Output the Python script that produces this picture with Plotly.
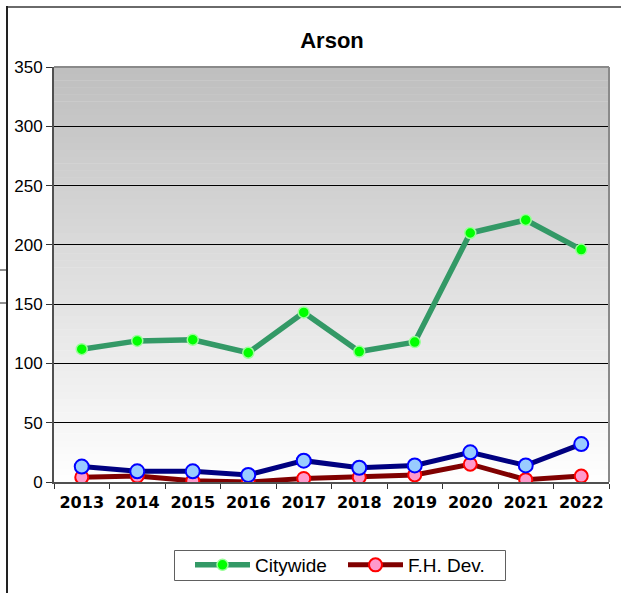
import plotly.graph_objects as go

years = ["2013", "2014", "2015", "2016", "2017", "2018", "2019", "2020", "2021", "2022"]
citywide = [112, 119, 120, 109, 143, 110, 118, 210, 221, 196]
fh_dev = [4, 5, 1, 0, 3, 4, 6, 15, 2, 5]
other = [13, 9, 9, 6, 18, 12, 14, 25, 14, 32]
y_ticks = [0, 50, 100, 150, 200, 250, 300, 350]

W, H = 621, 593
L, R, T, B = 54, 12, 67, 111

fig = go.Figure()
fig.add_trace(go.Scatter(
    x=years, y=fh_dev, name="F.H. Dev.", mode="lines+markers",
    line=dict(color="#800000", width=5),
    marker=dict(size=13, color="#ff99cc", line=dict(color="#ff0000", width=2)),
    legendrank=2,
))
fig.add_trace(go.Scatter(
    x=years, y=other, name="", mode="lines+markers", showlegend=False,
    line=dict(color="#000080", width=5),
    marker=dict(size=14, color="#99ccff", line=dict(color="#0000ff", width=2)),
))
fig.add_trace(go.Scatter(
    x=years, y=citywide, name="Citywide", mode="lines+markers",
    line=dict(color="#339966", width=5.5),
    marker=dict(size=11, color="#00ff00", line=dict(color="#99ff99", width=1.5)),
    legendrank=1,
))

# gradient background bands
n = 60
shapes = []
for i in range(n):
    y0 = i / n
    y1 = (i + 1) / n
    t = (i + 0.5) / n
    c = int(round(255 - t * 65))
    shapes.append(dict(type="rect", xref="x domain", yref="y domain",
                       x0=0, x1=1, y0=y0, y1=y1 + 0.001, layer="below",
                       line=dict(width=0), fillcolor=f"rgb({c},{c},{c})"))

def px(xp):
    return (xp - L) / (W - L - R)

def py(yp):
    return (H - B - yp) / (H - T - B)

# plot-area top/right border
shapes.append(dict(type="line", xref="paper", yref="paper", x0=0, x1=1, y0=1, y1=1,
                   line=dict(color="#8a8a8a", width=2)))
shapes.append(dict(type="line", xref="paper", yref="paper", x0=1, x1=1, y0=0, y1=1,
                   line=dict(color="#8a8a8a", width=2)))
# outer frame lines
shapes.append(dict(type="line", xref="paper", yref="paper", x0=px(7), x1=px(621), y0=py(7), y1=py(7),
                   line=dict(color="#6a6a6a", width=2)))
shapes.append(dict(type="line", xref="paper", yref="paper", x0=px(7), x1=px(7), y0=py(6), y1=py(593),
                   line=dict(color="#222222", width=2)))
shapes.append(dict(type="line", xref="paper", yref="paper", x0=px(0), x1=px(7), y0=py(270), y1=py(270),
                   line=dict(color="#222222", width=1)))
shapes.append(dict(type="line", xref="paper", yref="paper", x0=px(0), x1=px(7), y0=py(303), y1=py(303),
                   line=dict(color="#222222", width=1)))
# legend box
shapes.append(dict(type="rect", xref="paper", yref="paper", x0=px(174.5), x1=px(505.5), y0=py(550.5), y1=py(580.5),
                   line=dict(color="#606060", width=1), fillcolor="rgba(0,0,0,0)"))

fig.update_layout(
    width=W, height=H,
    margin=dict(l=L, r=R, t=T, b=B, autoexpand=False),
    paper_bgcolor="white", plot_bgcolor="white",
    title=dict(text="Arson", x=px(332), xanchor="center", xref="paper",
               y=1 - 40 / H, yanchor="middle",
               font=dict(family="Liberation Sans, Arial", size=22, color="black", weight="bold")),
    shapes=shapes,
    showlegend=True,
    legend=dict(orientation="h", x=px(190), xanchor="left", y=py(546), yanchor="top",
                font=dict(family="Liberation Sans, Arial", size=19, color="black"),
                borderwidth=0, bgcolor="rgba(0,0,0,0)",
                itemwidth=55, entrywidth=83, traceorder="normal"),
)
fig.update_xaxes(
    type="category", range=[-0.5, 9.5],
    tickson="boundaries", ticks="outside", ticklen=5, tickcolor="#333333",
    showline=True, linecolor="#505050", linewidth=2,
    showgrid=False, ticklabelstandoff=5,
    tickfont=dict(family="DejaVu Sans, Verdana", size=16, color="black", weight="bold"),
)
fig.update_yaxes(
    range=[0, 350], tickvals=y_ticks, ticktext=[str(v) for v in y_ticks],
    ticks="outside", ticklen=6, tickcolor="#333333",
    showline=True, linecolor="#505050", linewidth=2,
    showgrid=True, gridcolor="black", gridwidth=1,
    zeroline=False,
    tickfont=dict(family="Liberation Sans, Arial", size=17, color="black"),
)

fig.write_html("out.html", config={"displayModeBar": False},
               post_script="document.body.style.margin='0';document.body.style.padding='0';")
